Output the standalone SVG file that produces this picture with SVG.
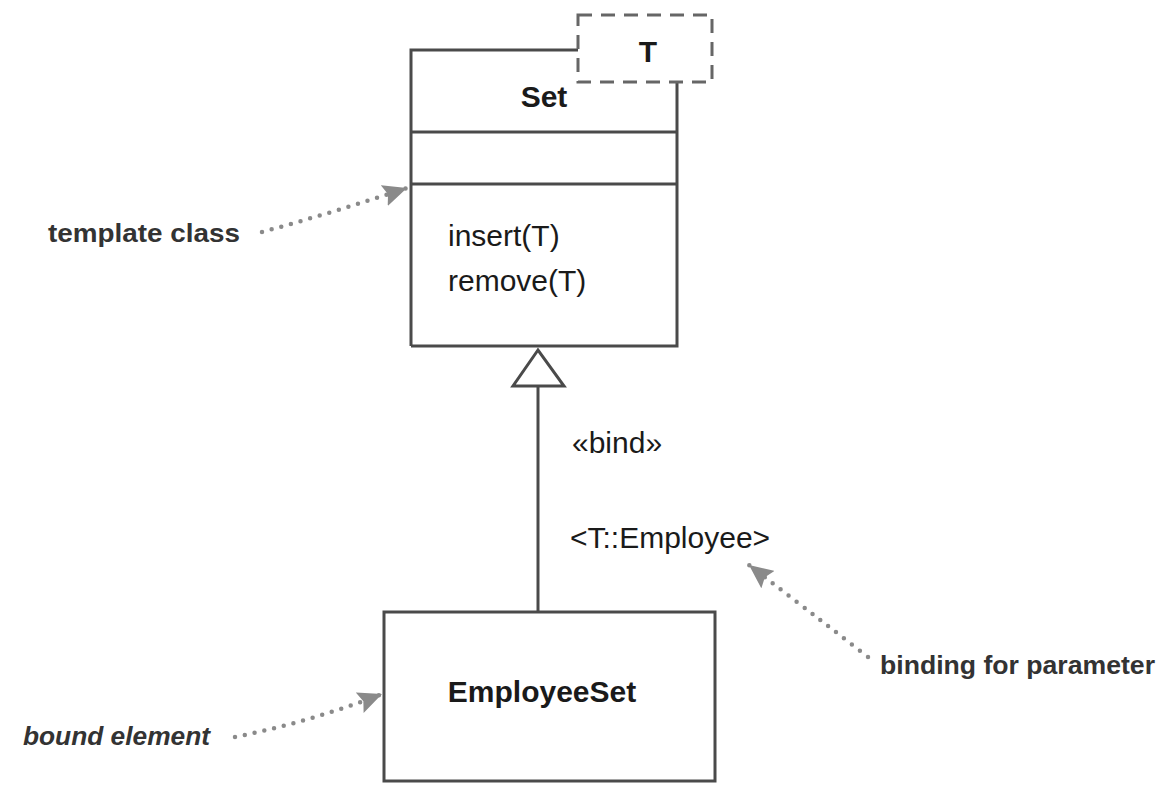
<svg xmlns="http://www.w3.org/2000/svg" width="1168" height="792" viewBox="0 0 1168 792">
<defs>
<style>
.line{stroke:#4a4a4a;stroke-width:3;fill:none}
.box{stroke:#4a4a4a;stroke-width:3;fill:#fff}
.dash{stroke:#666;stroke-width:3;fill:#fff;stroke-dasharray:14 9}
.uml{font-family:"Liberation Sans",Arial,sans-serif;font-size:30px;fill:#1a1a1a}
.b{font-weight:bold}
.note{font-family:"Liberation Sans",Arial,sans-serif;font-size:26px;font-weight:bold;fill:#333}
.dots{stroke:#8a8a8a;stroke-width:4.5;fill:none;stroke-linecap:round;stroke-dasharray:0 10}
</style>
<marker id="ah" markerWidth="26" markerHeight="22" refX="24" refY="11" orient="auto" markerUnits="userSpaceOnUse">
<path d="M0,0 L24,11 L0,22 L4,11 Z" fill="#8a8a8a"/>
</marker>
</defs>
<rect width="1168" height="792" fill="#fff"/>
<g id="set">
<path class="line" d="M411,346 L411,50 L578,50 M677,82 L677,346 L411,346 M411,132 L677,132 M411,184 L677,184"/>
<text class="uml b" x="544" y="107" text-anchor="middle">Set</text>
<text class="uml" x="448" y="246">insert(T)</text>
<text class="uml" x="448" y="291">remove(T)</text>
</g>
<g id="param">
<rect class="dash" x="578" y="15" width="134" height="67"/>
<text class="uml b" x="648" y="62" text-anchor="middle">T</text>
</g>
<g id="employeeset">
<rect class="box" x="384" y="612" width="331" height="169"/>
<text class="uml b" x="542" y="702" text-anchor="middle">EmployeeSet</text>
</g>
<g id="connectors">
<line class="line" x1="538" y1="386" x2="538" y2="612"/>
<path class="box" d="M538,350 L513,386 L564,386 Z"/>
<path class="dots" d="M262,232 Q335,212 407,188" marker-end="url(#ah)"/>
<path class="dots" d="M235,737 Q310,722 382,694" marker-end="url(#ah)"/>
<path class="dots" d="M868,657 Q805,608 749,565" marker-end="url(#ah)"/>
</g>
<g id="labels">
<text class="uml" x="572" y="453">«bind»</text>
<text class="uml" x="570" y="548">&lt;T::Employee&gt;</text>
<text class="note" x="48" y="242" textLength="192" lengthAdjust="spacingAndGlyphs">template class</text>
<text class="note" x="23" y="745" textLength="187" lengthAdjust="spacingAndGlyphs" font-style="italic">bound element</text>
<text class="note" x="880" y="674" textLength="275" lengthAdjust="spacingAndGlyphs">binding for parameter</text>
</g>
</svg>
